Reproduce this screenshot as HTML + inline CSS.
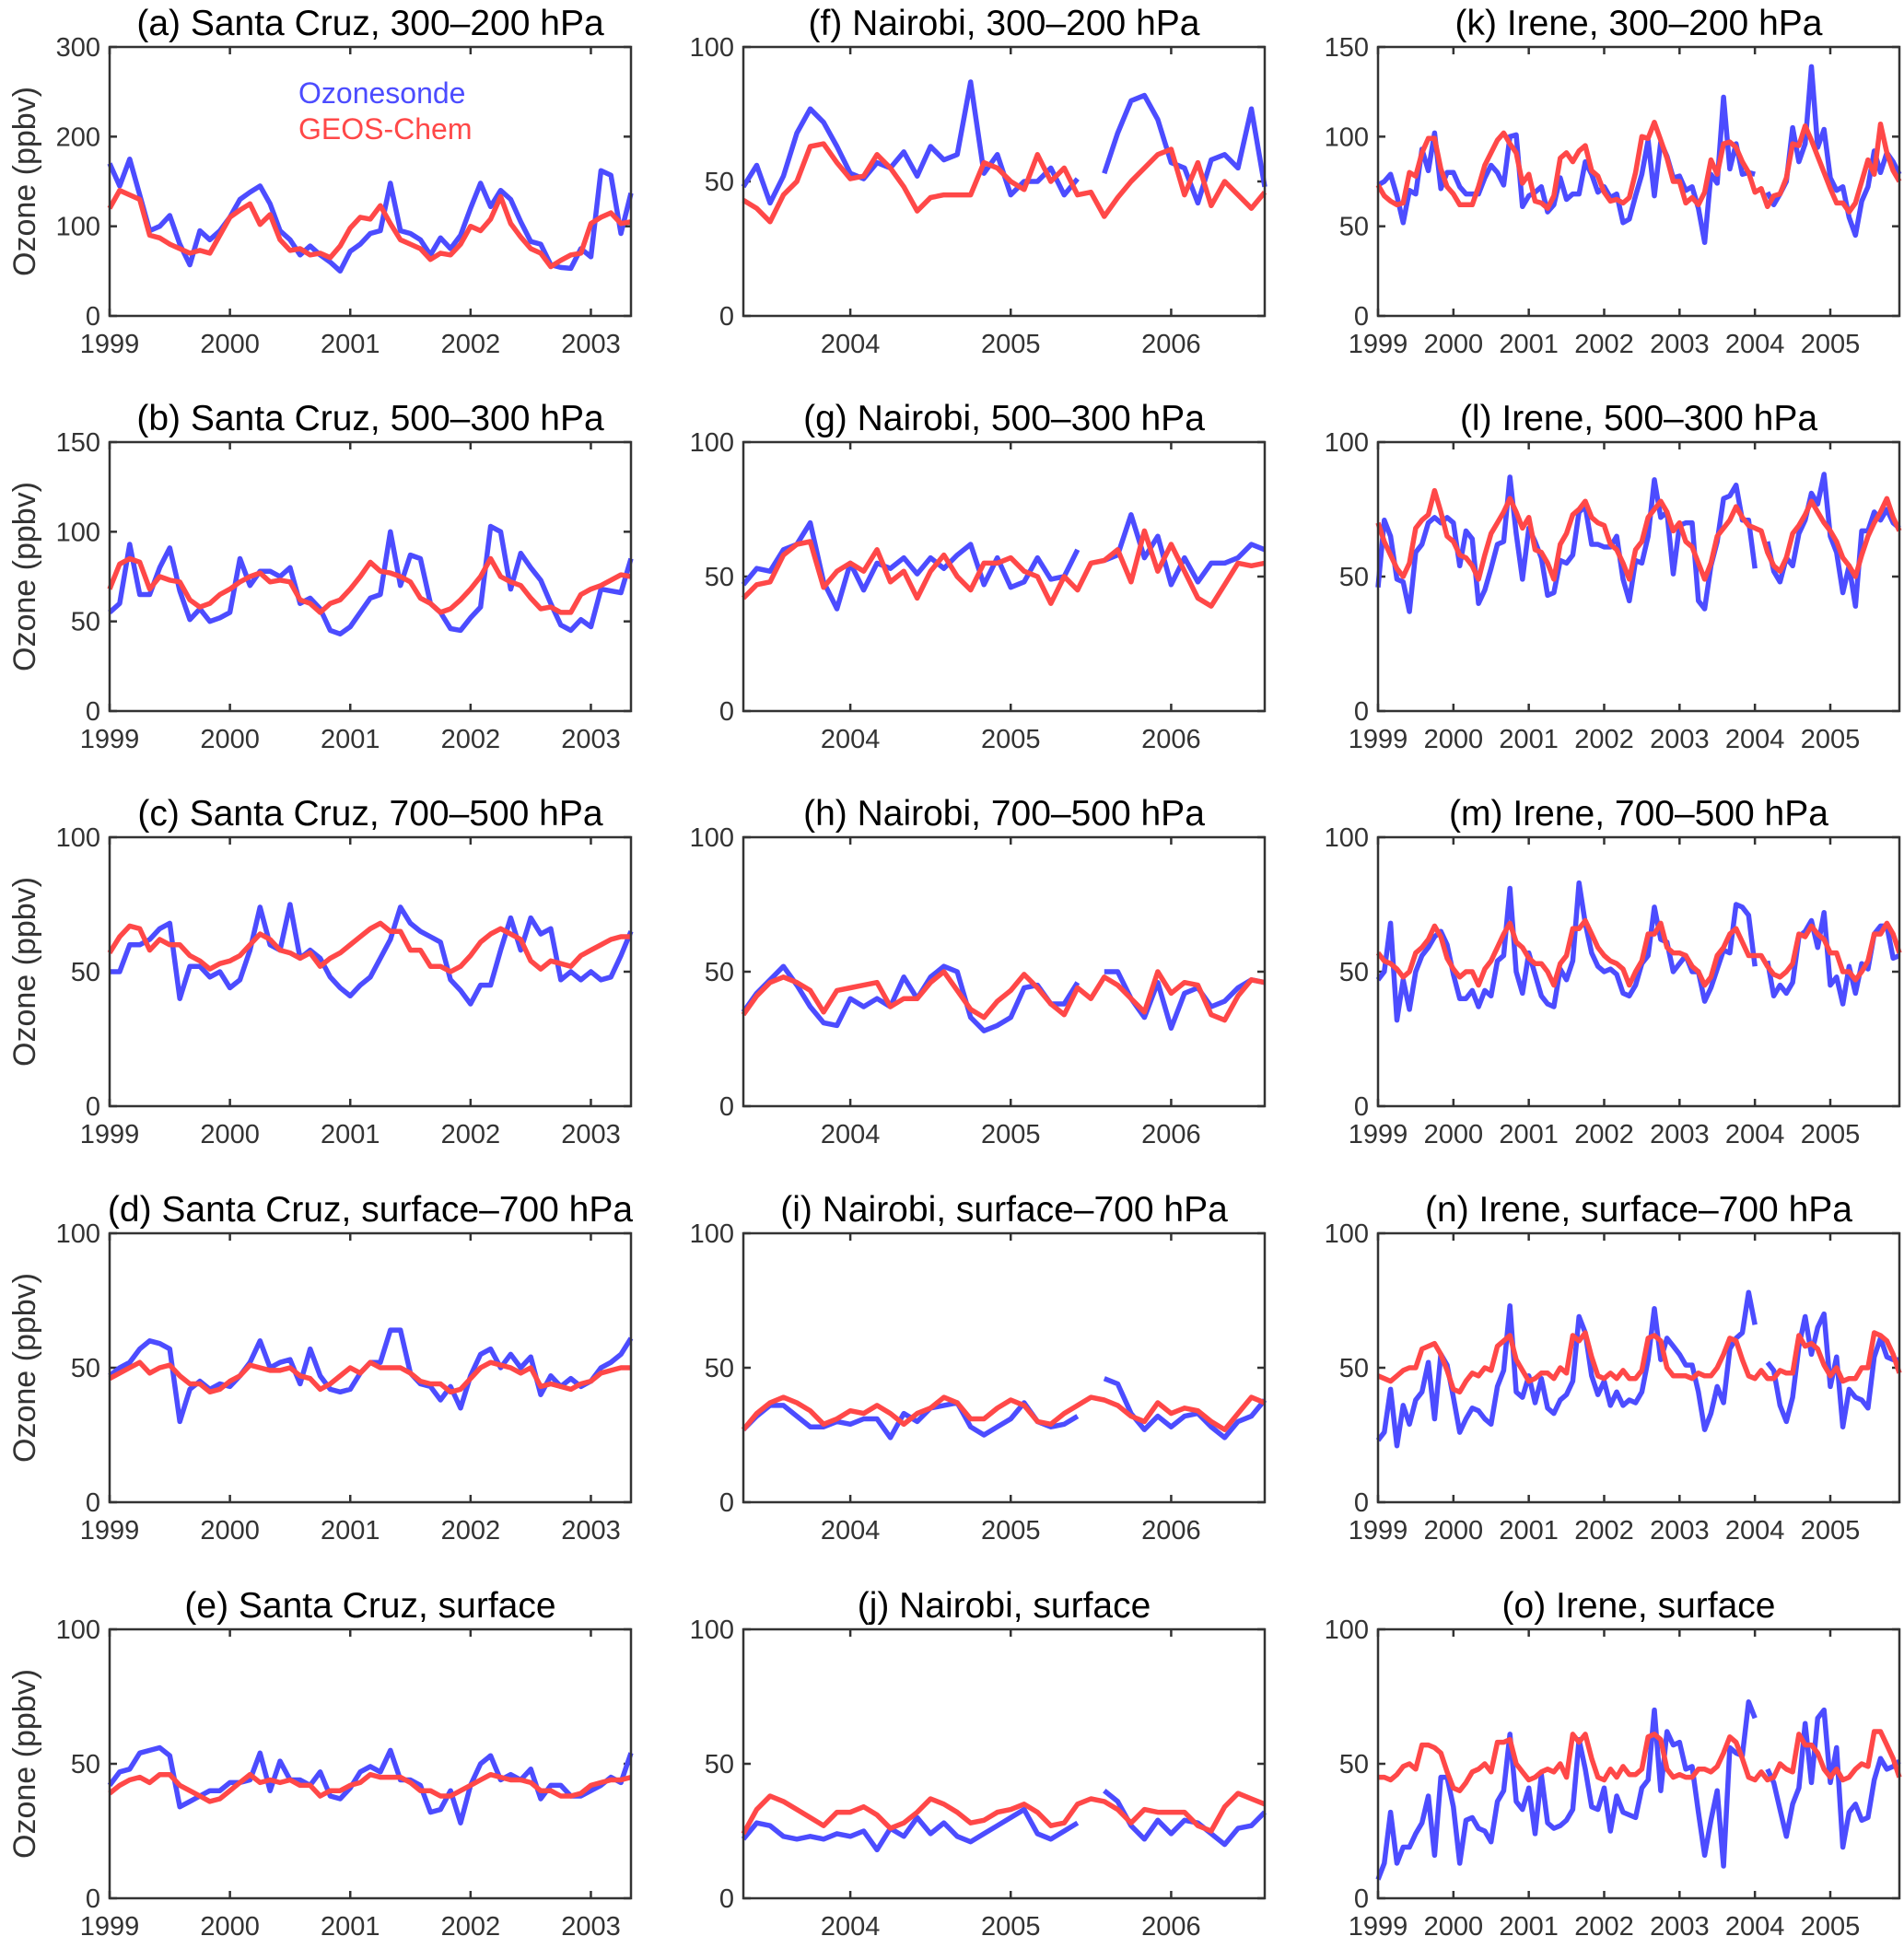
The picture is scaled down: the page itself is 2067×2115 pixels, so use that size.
<!DOCTYPE html>
<html><head><meta charset="utf-8">
<style>
html,body{margin:0;padding:0;background:#fff;}
svg{display:block;font-family:"Liberation Sans",Arial,sans-serif;}
</style></head>
<body>
<svg id="fig" width="2067" height="2115" viewBox="0 0 2067 2115" xmlns="http://www.w3.org/2000/svg"></svg>
<script>
// ---- data ----
const titles = ["(a) Santa Cruz, 300\u2013200 hPa","(b) Santa Cruz, 500\u2013300 hPa","(c) Santa Cruz, 700\u2013500 hPa","(d) Santa Cruz, surface\u2013700 hPa","(e) Santa Cruz, surface",
"(f) Nairobi, 300\u2013200 hPa","(g) Nairobi, 500\u2013300 hPa","(h) Nairobi, 700\u2013500 hPa","(i) Nairobi, surface\u2013700 hPa","(j) Nairobi, surface",
"(k) Irene, 300\u2013200 hPa","(l) Irene, 500\u2013300 hPa","(m) Irene, 700\u2013500 hPa","(n) Irene, surface\u2013700 hPa","(o) Irene, surface"];
const yMaxes = [300,150,100,100,100, 100,100,100,100,100, 150,100,100,100,100];
const yTickSteps = [100,50,50,50,50, 50,50,50,50,50, 50,50,50,50,50];
const stationStart = [1999.0, 2003.3333, 1999.0];
const stationEnd = [2003.3333, 2006.5833, 2005.9167];
const stationYearTicks = [[1999,2000,2001,2002,2003],[2004,2005,2006],[1999,2000,2001,2002,2003,2004,2005]];

const sondeA=[170,145,175,135,95,100,112,80,57,95,85,95,110,130,138,145,125,95,85,68,78,68,60,50,72,80,92,95,148,95,92,85,68,87,75,90,120,148,122,140,130,105,83,80,57,54,53,75,66,162,157,92,137];
const modelA=[120,140,135,130,90,87,80,75,70,73,70,90,110,118,125,102,113,85,73,75,68,70,65,78,98,110,108,123,103,85,80,75,63,70,68,80,100,95,108,133,103,88,75,70,55,62,68,70,103,110,115,103,105];
const sondeB=[55,60,93,65,65,80,91,67,51,57,50,52,55,85,70,78,78,75,80,60,63,57,45,43,47,55,63,65,100,70,87,85,60,55,46,45,52,58,103,100,68,88,80,73,60,48,45,51,47,68,67,66,85];
const modelB=[68,82,85,83,68,75,73,72,62,58,60,65,68,72,75,77,72,73,72,62,60,55,60,62,68,75,83,78,77,75,72,63,60,55,57,62,68,75,85,75,72,70,63,57,58,55,55,65,68,70,73,76,75];
const sondeC=[50,50,60,60,62,66,68,40,52,52,48,50,44,47,58,74,60,58,75,55,58,55,48,44,41,45,48,55,62,74,68,65,63,61,47,43,38,45,45,58,70,58,70,64,66,47,50,47,50,47,48,56,65];
const modelC=[57,63,67,66,58,62,60,60,56,54,51,53,54,56,60,64,62,58,57,55,57,52,55,57,60,63,66,68,65,65,58,58,52,52,50,52,56,61,64,66,64,62,54,51,54,53,52,56,58,60,62,63,63];
const sondeD=[47,50,52,57,60,59,57,30,42,45,42,44,43,47,52,60,50,52,53,44,57,47,42,41,42,48,52,52,64,64,48,44,43,38,43,35,47,55,57,50,55,50,54,40,47,43,46,43,45,50,52,55,61];
const modelD=[46,48,50,52,48,50,51,47,44,44,41,42,45,47,51,50,49,49,50,47,46,42,44,47,50,48,52,50,50,50,48,45,44,44,41,42,46,50,52,51,50,48,50,43,44,43,42,44,45,48,49,50,50];
const sondeE=[42,47,48,54,55,56,53,34,36,38,40,40,43,43,44,54,40,51,44,44,42,47,38,37,41,47,49,47,55,44,44,42,32,33,40,28,42,50,53,44,46,44,48,37,42,42,38,38,40,42,45,43,54];
const modelE=[39,42,44,45,43,46,46,42,40,38,36,37,40,43,46,43,44,43,44,42,42,38,40,40,42,43,46,45,45,45,43,40,40,38,38,40,42,44,46,45,44,44,43,40,40,38,38,39,42,43,44,44,45];

const sondeF=[48,56,42,52,68,77,72,63,53,51,57,55,61,52,63,58,60,87,53,60,45,50,50,55,45,51,null,53,68,80,82,73,57,55,42,58,60,55,77,48];
const modelF=[43,40,35,45,50,63,64,57,51,52,60,55,48,39,44,45,45,45,57,55,50,47,60,50,55,45,46,37,44,50,55,60,62,45,57,41,50,45,40,46];
const sondeG=[47,53,52,60,62,70,48,38,55,45,55,53,57,51,57,53,58,62,47,57,46,48,57,49,50,60,null,56,58,73,57,65,47,57,48,55,55,57,62,60];
const modelG=[42,47,48,58,62,63,46,52,55,52,60,48,52,42,52,58,50,45,55,55,57,52,50,40,50,45,55,56,60,48,67,52,62,52,42,39,47,55,54,55];
const sondeH=[35,42,47,52,45,37,31,30,40,37,40,37,48,40,48,52,50,33,28,30,33,44,45,38,38,46,null,50,50,40,33,46,29,42,44,37,39,44,47,46];
const modelH=[34,41,46,48,46,43,35,43,44,45,46,37,40,40,46,50,43,36,33,39,43,49,44,38,34,44,40,48,45,40,35,50,42,46,45,34,32,41,47,46];
const sondeI=[27,32,36,36,32,28,28,30,29,31,31,24,33,30,35,36,37,28,25,28,31,37,30,28,29,32,null,46,44,33,27,32,28,32,33,28,24,30,32,38];
const modelI=[27,33,37,39,37,34,29,31,34,33,36,33,29,33,35,39,37,31,31,35,38,36,30,29,33,36,39,38,36,32,30,37,33,35,34,30,27,33,39,37];
const sondeJ=[22,28,27,23,22,23,22,24,23,25,18,26,23,30,24,28,23,21,24,27,30,33,24,22,25,28,null,40,36,27,22,29,24,29,28,24,20,26,27,32];
const modelJ=[24,33,38,36,33,30,27,32,32,34,31,26,28,32,37,35,32,28,29,32,33,35,32,27,28,35,37,36,33,28,33,32,32,32,27,25,34,39,37,35];

const sondeK=[73,75,79,67,52,70,68,93,81,102,71,80,80,72,68,68,68,77,84,80,73,100,101,61,67,69,72,58,62,77,65,68,68,86,79,69,72,66,68,52,54,67,79,98,67,97,89,77,78,70,72,60,41,79,74,122,82,96,79,80,79,null,69,62,68,75,105,86,96,139,94,104,77,70,72,55,45,64,72,92,80,91,86,79];
const modelK=[73,67,64,62,63,80,78,91,99,99,82,72,68,62,62,62,72,84,91,98,102,96,91,74,79,64,63,60,67,88,91,86,92,95,81,78,69,64,65,63,66,80,100,99,108,98,88,75,75,63,66,62,69,87,79,96,97,94,86,80,69,71,61,67,68,77,96,95,106,98,89,80,71,63,63,58,63,75,87,79,107,91,81,75];
const sondeL=[46,71,65,49,48,37,59,62,70,72,70,72,70,54,67,64,40,45,53,62,63,87,66,49,68,63,57,43,44,56,55,58,74,76,62,62,61,61,65,49,41,56,55,65,86,72,74,51,69,70,70,41,38,54,63,79,80,84,71,71,53,null,63,52,48,57,54,66,71,81,77,88,65,59,44,54,39,67,67,74,71,75,70,68];
const modelL=[70,63,58,53,50,55,68,71,73,82,74,65,63,58,57,54,49,58,66,70,74,79,74,68,72,60,59,55,49,62,66,73,75,78,72,70,69,62,60,55,49,60,63,72,75,78,74,67,70,63,61,55,49,55,65,68,71,76,72,69,68,67,59,54,52,57,66,69,73,78,74,70,67,63,57,54,50,58,65,70,74,79,72,67];
const sondeM=[47,50,68,32,47,36,50,56,59,63,65,60,49,40,40,43,37,43,41,54,56,81,50,42,57,49,41,38,37,51,47,54,83,68,57,52,50,51,49,42,41,45,53,56,74,62,61,50,53,56,50,50,39,44,51,58,57,75,74,71,52,null,54,41,45,42,46,63,65,69,59,72,45,48,38,52,42,53,51,64,67,67,55,56];
const modelM=[57,54,53,51,48,50,57,59,62,67,63,55,51,48,50,50,45,51,54,59,64,68,61,59,55,53,53,50,45,53,56,66,66,69,64,59,56,54,53,51,45,50,54,64,64,68,59,57,57,56,52,50,45,48,56,59,64,66,61,56,56,56,52,49,48,50,53,64,63,67,64,62,57,57,50,50,47,50,54,64,64,68,64,57];
const sondeN=[23,26,42,21,36,29,38,41,52,31,55,51,39,26,31,35,34,31,29,43,49,73,41,39,47,37,46,35,33,38,40,45,69,63,47,40,45,36,41,36,38,37,41,53,72,53,61,58,55,51,51,41,27,33,43,37,57,61,63,78,66,null,52,49,36,30,39,58,69,55,65,70,43,54,28,42,39,38,35,54,61,54,53,53];
const modelN=[47,46,45,47,49,50,50,57,58,59,55,49,42,41,45,48,47,50,49,58,60,62,53,49,45,46,48,48,46,50,48,62,60,63,54,47,46,48,46,49,46,46,49,61,62,60,50,47,47,47,46,48,47,47,50,55,61,60,53,47,46,49,46,46,49,48,48,62,58,59,57,51,47,50,45,46,46,50,50,63,62,60,55,48];
const sondeO=[7,13,32,13,19,19,24,28,38,16,45,45,34,13,29,30,26,25,21,36,40,61,36,33,41,24,46,28,26,27,29,33,59,48,34,33,41,25,38,32,31,30,41,44,70,40,62,57,58,48,49,32,16,29,40,12,56,54,53,73,67,null,48,43,33,23,35,41,65,43,67,70,43,56,19,32,35,29,30,44,52,48,49,51];
const modelO=[45,45,44,46,49,50,48,57,57,56,54,47,41,40,43,47,48,50,47,58,58,59,50,47,44,45,47,48,47,50,45,61,58,61,52,45,44,48,45,49,46,46,48,60,61,59,48,45,46,45,45,48,48,47,49,54,60,58,52,45,44,47,44,45,50,48,47,61,57,57,54,48,45,48,44,45,48,50,49,62,62,57,52,45];

const sondeSeries=[sondeA,sondeB,sondeC,sondeD,sondeE,sondeF,sondeG,sondeH,sondeI,sondeJ,sondeK,sondeL,sondeM,sondeN,sondeO];
const modelSeries=[modelA,modelB,modelC,modelD,modelE,modelF,modelG,modelH,modelI,modelJ,modelK,modelL,modelM,modelN,modelO];

// ---- layout ----
const NS="http://www.w3.org/2000/svg";
const svg=document.getElementById('fig');
const colLeft=[119,807,1496], rowTop=[51,480,909,1339,1769], PW=566, PH=292;
const BLUE="#4c4cff", RED="#ff4848", AX="#333333";
function mk(tag,attrs,parent){const e=document.createElementNS(NS,tag);for(const k in attrs)e.setAttribute(k,attrs[k]);(parent||svg).appendChild(e);return e;}

for(let p=0;p<15;p++){
  const col=Math.floor(p/5), row=p%5;
  const L=colLeft[col], T=rowTop[row], B=T+PH, R=L+PW;
  const x0=stationStart[col], x1=stationEnd[col], ym=yMaxes[p];
  const xs=t=>L+(t-x0)/(x1-x0)*PW;
  const ys=v=>B-v/ym*PH;
  const g=mk('g',{});
  
  
  const tt=mk('text',{x:(L+R)/2,y:T-13,'text-anchor':'middle','font-size':39,fill:'#000'},g);
  tt.textContent=titles[p];
  
  
  // y ticks
  for(let v=0;v<=ym+1e-9;v+=yTickSteps[p]){
    const y=ys(v);
    const tl=mk('line',{x1:L,x2:L+8,y1:y,y2:y,stroke:AX,'stroke-width':2.5},g);
    
    
    mk('line',{x1:R,x2:R-8,y1:y,y2:y,stroke:AX,'stroke-width':2.5},g);
    const lb=mk('text',{x:L-10,y:y+10,'text-anchor':'end','font-size':29,fill:AX},g);
    lb.textContent=String(v);
    
    
  }
  // x ticks
  stationYearTicks[col].forEach(yr=>{
    const x=xs(yr);
    const tl=mk('line',{x1:x,x2:x,y1:B,y2:B-8,stroke:AX,'stroke-width':2.5},g);
    
    
    mk('line',{x1:x,x2:x,y1:T,y2:T+8,stroke:AX,'stroke-width':2.5},g);
    const lb=mk('text',{x:x,y:B+40,'text-anchor':'middle','font-size':29,fill:AX},g);
    lb.textContent=String(yr);
    
    
  });
  // series
  [[sondeSeries[p],BLUE,'ozonesonde-line'],[modelSeries[p],RED,'geos-chem-line']].forEach(([arr,color,name])=>{
    let d='',pen=false;
    arr.forEach((v,i)=>{
      if(v===null){pen=false;return;}
      const x=xs(x0+i/12), y=ys(v);
      d+=(pen?'L':'M')+x.toFixed(1)+' '+y.toFixed(1)+' ';
      pen=true;
    });
    const path=mk('path',{d:d,fill:'none',stroke:color,'stroke-width':5.5,'stroke-linejoin':'round'},g);
    
    
  });
  const box=mk('rect',{x:L,y:T,width:PW,height:PH,fill:'none',stroke:AX,'stroke-width':2.5},g);
  
  
  if(col===0){
    const yl=mk('text',{x:0,y:0,'text-anchor':'middle','font-size':34,fill:AX,transform:`translate(38,${T+PH/2}) rotate(-90)`},g);
    yl.textContent='Ozone (ppbv)';
    
    
  }
  if(p===0){
    const l1=mk('text',{x:324,y:112,'text-anchor':'start','font-size':32,fill:BLUE},g);
    l1.textContent='Ozonesonde';
    
    
    const l2=mk('text',{x:324,y:151,'text-anchor':'start','font-size':32,fill:RED},g);
    l2.textContent='GEOS-Chem';
    
    
  }
}
</script>
</body></html>
